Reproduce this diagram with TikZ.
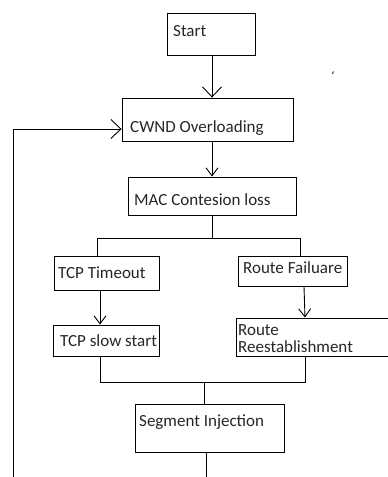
\documentclass[tikz,border=0pt]{standalone}
\usepackage{fontspec}
\setmainfont{Carlito}
\usetikzlibrary{arrows.meta,calc}
\begin{document}
\begin{tikzpicture}[x=1pt,y=-1pt,
  box/.style={draw, line width=0.9pt, inner sep=0pt, minimum width=#1},
  lbl/.style={anchor=base west, inner sep=0pt, font=\fontsize{17}{17.7}\selectfont, text=black!85},
  conn/.style={line width=0.9pt},
  arr/.style={conn, -{Straight Barb[length=8pt,width=12pt]}},
  bigarr/.style={conn, -{Straight Barb[length=10pt,width=19pt]}}]
\clip (0,0) rectangle (388,477);
% boxes
\node[box=88, minimum height=42] (start) at (211,34) {};
\node[box=171, minimum height=43] (cwnd) at (207.5,119.5) {};
\node[box=168, minimum height=38] (mac) at (212,196) {};
\node[box=105, minimum height=34] (tcpto) at (106.5,273) {};
\node[box=109, minimum height=30] (rf) at (292.5,271) {};
\node[box=106, minimum height=31] (tcpss) at (106,340.5) {};
\node[box=160, minimum height=38] (rr) at (316,337) {};
\node[box=149, minimum height=48] (seg) at (209.5,428) {};
% texts
\node[lbl] (tstart) at (173,36.5) {Start};
\node[lbl] (tcwnd) at (130,132.5) {CWND Overloading};
\node[lbl] (tmac) at (134,205) {MAC Contesion loss};
\node[lbl] (ttcpto) at (58,278.5) {TCP Timeout};
\node[lbl] (trf) at (243,273) {Route Failuare};
\node[lbl] (ttcpss) at (60,346) {TCP slow start};
\node[lbl] (trr1) at (238,335) {Route};
\node[lbl] (trr2) at (238,352.5) {Reestablishment};
\node[lbl] (tseg) at (139,426.5) {Segment Injection};
% connectors
\draw[bigarr] ([xshift=1pt]start.south) -- ([xshift=4.5pt]cwnd.north);
\draw[arr] ([xshift=4.5pt]cwnd.south) -- (mac.north);
\coordinate (j1) at (212,238);
\draw[conn] (mac.south) -- (j1);
\draw[conn] (j1) -| ([xshift=-9.5pt]tcpto.north);
\draw[conn] (j1) -| ([xshift=7.5pt]rf.north);
\draw[arr] ([xshift=-6.5pt]tcpto.south) -- ([xshift=-6pt]tcpss.north);
\draw[arr] ([xshift=11.5pt]rf.south) -- ([xshift=-11pt]rr.north);
\coordinate (j2) at (204,382);
\draw[conn] ([xshift=-6pt]tcpss.south) |- (j2);
\draw[conn] ([xshift=-11pt]rr.south) |- (j2);
\draw[conn] (j2) -- ([xshift=-5.5pt]seg.north);
\coordinate (bot) at (206,478);
\draw[conn] ([xshift=-3.5pt]seg.south) -- (bot);
\coordinate (fb) at (13,478);
\draw[bigarr] (fb) |- ($(cwnd.west)+(0,9.5)$);
% stray mark
\draw[line width=0.8pt] (333.5,71.5) -- (332.5,74);
\end{tikzpicture}
\end{document}
